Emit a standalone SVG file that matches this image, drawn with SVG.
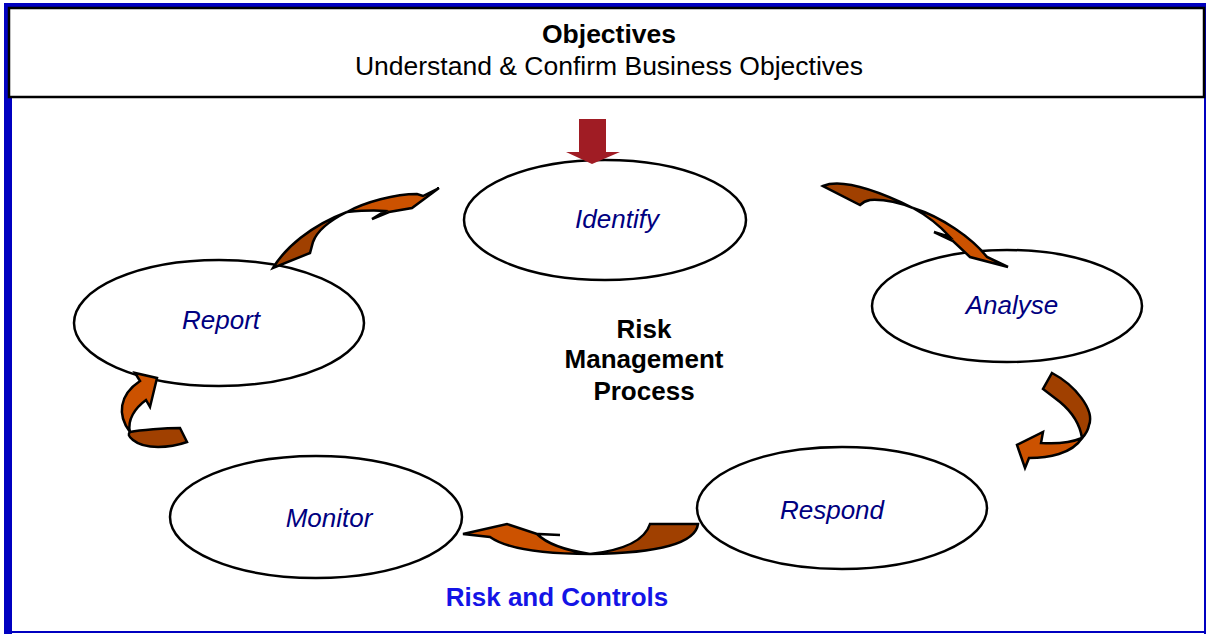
<svg xmlns="http://www.w3.org/2000/svg" width="1207" height="634" viewBox="0 0 1207 634">
  <style>
    .frame { fill: #0000C0; }
    .step { fill: #FFFFFF; stroke: #000000; stroke-width: 2.5; }
    .label { font-family: "Liberation Sans", Arial, sans-serif; font-size: 26px; font-style: italic; fill: #000080; text-anchor: middle; }
    .title { font-family: "Liberation Sans", Arial, sans-serif; font-size: 26px; fill: #000000; text-anchor: middle; }
    .head { font-size: 26.5px; }
    .bold { font-weight: bold; }
    .blue { fill: #1414E6; }
    .front { fill: #CC5200; stroke: #000000; stroke-width: 2.5; stroke-linejoin: miter; }
    .back { fill: #A04000; stroke: #000000; stroke-width: 2.5; stroke-linejoin: miter; }
  </style>

  <!-- page frame -->
  <rect x="0" y="0" width="1207" height="634" fill="#FFFFFF"/>
  <g id="frame">
    <rect class="frame" x="4" y="3" width="1202" height="8"/>
    <rect class="frame" x="4" y="3" width="8" height="631"/>
    <rect class="frame" x="1204" y="3" width="2" height="631"/>
    <rect class="frame" x="4" y="631" width="1202" height="2"/>
  </g>

  <!-- objectives header -->
  <g id="header">
    <rect x="9" y="8" width="1195" height="89" fill="#FFFFFF" stroke="#000000" stroke-width="2.5"/>
    <text class="title head bold" x="609" y="43">Objectives</text>
    <text class="title head" x="609" y="75">Understand &amp; Confirm Business Objectives</text>
  </g>

  <!-- process steps -->
  <g id="identify">
    <ellipse class="step" cx="605" cy="220" rx="141" ry="60"/>
    <text class="label" x="617" y="228">Identify</text>
  </g>
  <g id="analyse">
    <ellipse class="step" cx="1007" cy="306" rx="135" ry="56"/>
    <text class="label" x="1012" y="314">Analyse</text>
  </g>
  <g id="respond">
    <ellipse class="step" cx="842" cy="508" rx="145" ry="61"/>
    <text class="label" x="832" y="519">Respond</text>
  </g>
  <g id="monitor">
    <ellipse class="step" cx="316" cy="517" rx="146" ry="61"/>
    <text class="label" x="329" y="527">Monitor</text>
  </g>
  <g id="report">
    <ellipse class="step" cx="219" cy="323" rx="145" ry="63"/>
    <text class="label" x="221" y="329">Report</text>
  </g>

  <!-- centre caption -->
  <g id="centre">
    <text class="title bold" x="644" y="338">Risk</text>
    <text class="title bold" x="644" y="368">Management</text>
    <text class="title bold" x="644" y="400">Process</text>
  </g>

  <g id="footer">
    <text class="title bold blue" x="557" y="606">Risk and Controls</text>
  </g>

  <!-- connectors -->
  <g id="connectors">
    <!-- objectives feed into identify -->
    <path d="M579,119 L606,119 L606,152 L620,152 L592,164 L566,152 L579,152 Z" fill="#A01C24"/>

    <!-- report to identify -->
    <path class="back" d="M273,268 C285,248 310,226 347,212 C335,218 318,228 313,242 L310,253 Z"/>
    <path class="front" d="M347,212 C365,202 395,194 417,194 L423,196 L439,188 L412,208 L389,212 L372,219 L385,211 C372,210 358,211 347,212 Z"/>

    <!-- identify to analyse -->
    <path class="back" d="M823,186 C840,179 870,187 913,208 C900,203 885,199 870,200 C864,201 862,203 860,205 Z"/>
    <path class="front" d="M913,208 C942,217 972,238 987,257 L1008,267 L970,257 L953,241 L934,232 L950,237 C940,226 926,215 913,208 Z"/>

    <!-- analyse to respond -->
    <path class="back" d="M1052,373 C1075,385 1095,410 1089,425 C1088,431 1086,434 1082,438 C1080,425 1072,412 1060,402 L1043,389 Z"/>
    <path class="front" d="M1082,438 C1070,443 1055,444 1041,443 L1043,432 L1017,445 L1025,468 L1029,458 C1048,458 1072,454 1082,438 Z"/>

    <!-- respond to monitor -->
    <path class="back" d="M650,524 L698,524 C696,540 670,553 590,554 C625,550 645,540 650,524 Z"/>
    <path class="front" d="M590,554 C550,554 510,551 490,537 L463,534 L507,524 L537,534 L560,535 L537,534 C548,545 570,551 590,554 Z"/>

    <!-- monitor to report -->
    <path class="back" d="M180,428 L187,442 C170,448 145,450 133,440 C128,436 128,434 130,432 C140,430 165,428 180,428 Z"/>
    <path class="front" d="M130,432 C117,415 119,395 140,381 L135,373 L157,378 L150,407 L146,400 C135,408 127,420 130,432 Z"/>
  </g>
</svg>
